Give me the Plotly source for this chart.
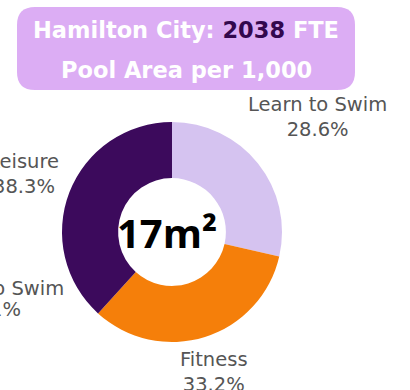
import plotly.graph_objects as go

# Pool area split for Hamilton City
categories = ["Learn to Swim", "Fitness", "Leisure"]
shares = [28.6, 33.2, 38.3]
colors = ["#d5c3f0", "#f57f0a", "#3c0a5c"]

city = "Hamilton City"
fte = "2038"
area_per_1000 = "17m²"

W, H = 410, 390

def px(x):
    return x / W

def py(y):
    return 1 - y / H

fig = go.Figure()
fig.add_trace(go.Pie(
    labels=categories,
    values=shares,
    marker=dict(colors=colors, line=dict(width=0)),
    hole=0.49,
    sort=False,
    direction="clockwise",
    rotation=0,
    textinfo="none",
    hoverinfo="label+percent",
    showlegend=False,
    domain=dict(x=[px(62), px(282)], y=[py(342), py(122)]),
))

# rounded header box
x0, x1, y0, y1, r = 17, 355, 7, 90, 18
path = (
    f"M {px(x0 + r)} {py(y0)} L {px(x1 - r)} {py(y0)} "
    f"Q {px(x1)} {py(y0)} {px(x1)} {py(y0 + r)} "
    f"L {px(x1)} {py(y1 - r)} Q {px(x1)} {py(y1)} {px(x1 - r)} {py(y1)} "
    f"L {px(x0 + r)} {py(y1)} Q {px(x0)} {py(y1)} {px(x0)} {py(y1 - r)} "
    f"L {px(x0)} {py(y0 + r)} Q {px(x0)} {py(y0)} {px(x0 + r)} {py(y0)} Z"
)
fig.add_shape(type="path", path=path, xref="paper", yref="paper",
              fillcolor="#dcadf4", line=dict(width=0), layer="below")

title_font = dict(family="DejaVu Sans", size=22.5, color="white")
fig.add_annotation(
    text=f"<b>{city}: <span style='color:#33084d'>{fte}</span> FTE</b>",
    x=px(186), y=py(30), xref="paper", yref="paper",
    showarrow=False, font=title_font, xanchor="center", yanchor="middle")
fig.add_annotation(
    text="<b>Pool Area per 1,000</b>",
    x=px(186), y=py(70), xref="paper", yref="paper",
    showarrow=False, font=title_font, xanchor="center", yanchor="middle")

# centre value
fig.add_annotation(
    text=f"<b>{area_per_1000}</b>", x=px(167), y=py(232),
    xref="paper", yref="paper", showarrow=False,
    font=dict(family="Open Sans", size=40, color="black"),
    xanchor="center", yanchor="middle")

# slice labels
label_font = dict(family="DejaVu Sans", size=19.5, color="#555555")
label_pos = {"Learn to Swim": (317, 117), "Fitness": (214, 372), "Leisure": (24, 174)}
for name, val in zip(categories, shares):
    lx, ly = label_pos[name]
    fig.add_annotation(
        text=f"{name}<br>{val:.1f}%", x=px(lx), y=py(ly),
        xref="paper", yref="paper", showarrow=False, font=label_font,
        xanchor="center", yanchor="middle", align="center")

# label of the neighbouring chart, running off the left edge
fig.add_annotation(
    text="Learn to Swim", x=px(66), y=py(288), xref="paper", yref="paper",
    showarrow=False, font=label_font, xanchor="right", yanchor="middle")
fig.add_annotation(
    text="24.1%", x=px(23), y=py(309), xref="paper", yref="paper",
    showarrow=False, font=label_font, xanchor="right", yanchor="middle")

fig.update_layout(
    width=W, height=H,
    margin=dict(l=0, r=0, t=0, b=0),
    paper_bgcolor="white", plot_bgcolor="white",
)

fig.write_html("out.html", config={"displayModeBar": False})
